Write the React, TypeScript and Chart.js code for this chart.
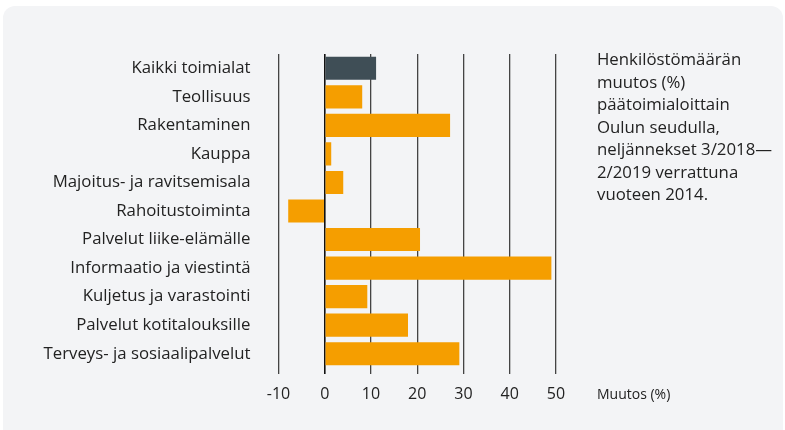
import React, { useEffect, useRef } from "react";
import { Chart, registerables } from "chart.js";

Chart.register(...registerables);

const categories = [
  "Kaikki toimialat",
  "Teollisuus",
  "Rakentaminen",
  "Kauppa",
  "Majoitus- ja ravitsemisala",
  "Rahoitustoiminta",
  "Palvelut liike-elämälle",
  "Informaatio ja viestintä",
  "Kuljetus ja varastointi",
  "Palvelut kotitalouksille",
  "Terveys- ja sosiaalipalvelut",
];
const values = [11.1, 8.1, 27.1, 1.4, 4.0, -7.9, 20.6, 49.0, 9.2, 18.0, 29.1];
const highlightIndex = 0;
const xMin = -10;
const xMax = 50;
const xStep = 10;
const annotationLines = [
  "Henkilöstömäärän",
  "muutos (%)",
  "päätoimialoittain",
  "Oulun seudulla,",
  "neljännekset 3/2018—",
  "2/2019 verrattuna",
  "vuoteen 2014.",
];
const axisTitle = "Muutos (%)";

const ORANGE = "#F59E00";
const DARK = "#3F4E56";
const FONT = "'Open Sans', Lato, sans-serif";

export default function App() {
  const canvasRef = useRef<HTMLCanvasElement | null>(null);

  useEffect(() => {
    const canvas = canvasRef.current;
    if (!canvas) return;
    const chart = new Chart(canvas, {
      type: "bar",
      data: {
        labels: categories,
        datasets: [
          {
            data: values,
            backgroundColor: values.map((_, i) => (i === highlightIndex ? DARK : ORANGE)),
            borderWidth: 0,
            categoryPercentage: 1,
            barPercentage: 0.81,
          },
        ],
      },
      options: {
        indexAxis: "y",
        responsive: false,
        animation: false,
        layout: { padding: { top: 54, right: 229, bottom: 0, left: 0 } },
        plugins: {
          legend: { display: false },
          tooltip: { enabled: false },
        },
        scales: {
          x: {
            type: "linear",
            min: xMin,
            max: xMax,
            afterFit: (s: any) => {
              s.height = 62;
            },
            ticks: {
              stepSize: xStep,
              color: "#222",
              padding: 11,
              font: { family: FONT, size: 16 },
            },
            border: { display: false },
            grid: {
              color: (ctx: any) => (ctx.tick && ctx.tick.value === 0 ? "#111" : "#444"),
              lineWidth: (ctx: any) => (ctx.tick && ctx.tick.value === 0 ? 1.6 : 1.3),
              tickLength: 6,
              drawTicks: true,
            },
          },
          y: {
            afterFit: (s: any) => {
              s.width = 278.5;
            },
            ticks: {
              color: "#222",
              padding: 28,
              font: { family: FONT, size: 16.8 },
            },
            border: { display: false },
            grid: { display: false, drawTicks: false },
          },
        },
      },
    });
    return () => chart.destroy();
  }, []);

  return (
    <div
      style={{
        position: "fixed",
        left: 0,
        top: 0,
        width: 785,
        height: 430,
        background: "#fff",
        overflow: "hidden",
        fontFamily: FONT,
      }}
    >
      <div
        style={{
          position: "absolute",
          left: 3,
          top: 6,
          width: 780,
          height: 440,
          background: "#F3F4F6",
          borderRadius: 12,
        }}
      />
      <canvas
        ref={canvasRef}
        width={785}
        height={430}
        style={{ position: "absolute", left: 0, top: 0, width: 785, height: 430 }}
      />
      <div
        style={{
          position: "absolute",
          left: 597,
          top: 48,
          fontSize: 16.8,
          lineHeight: "22.5px",
          color: "#222",
          whiteSpace: "nowrap",
        }}
      >
        {annotationLines.map((l, i) => (
          <div key={i}>{l}</div>
        ))}
      </div>
      <div
        style={{
          position: "absolute",
          left: 597,
          top: 383,
          fontSize: 14,
          lineHeight: "22px",
          color: "#222",
          whiteSpace: "nowrap",
        }}
      >
        {axisTitle}
      </div>
    </div>
  );
}
